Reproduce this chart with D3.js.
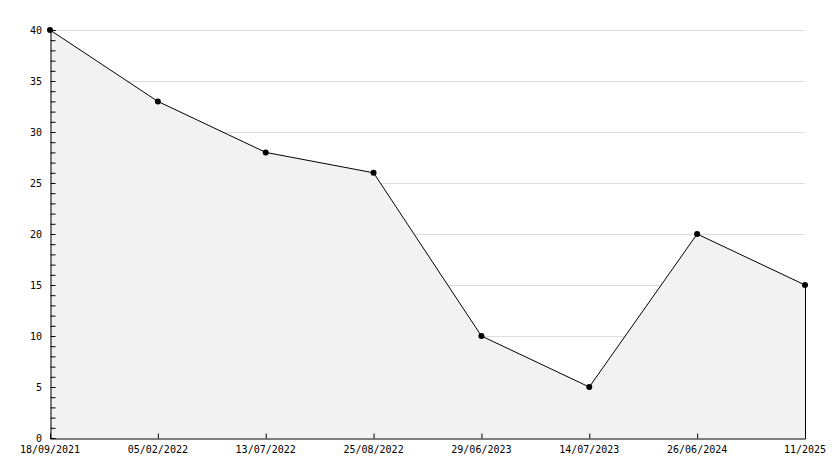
<html>
<head>
<script src="https://d3js.org/d3.v7.min.js"></script>
<style>
  body { margin: 0; background: #fff; }
  svg text { font-family: "DejaVu Sans Mono", monospace; font-size: 10px; fill: #000; }
</style>
</head>
<body>
<svg id="chart" width="834" height="468"></svg>
<script>
const dates = ["18/09/2021", "05/02/2022", "13/07/2022", "25/08/2022", "29/06/2023", "14/07/2023", "26/06/2024", "11/2025"];
const values = [40, 33, 28, 26, 10, 5, 20, 15];
const yMajorTicks = [0, 5, 10, 15, 20, 25, 30, 35, 40];

const plotLeft = 50, plotRight = 805, plotTop = 30, plotBottom = 438;
const svg = d3.select('#chart');

const x = d3.scalePoint().domain(dates).range([plotLeft, plotRight]);
const y = d3.scaleLinear().domain([0, 40]).range([plotBottom, plotTop]);

// grid
svg.append('g').selectAll('line')
  .data(yMajorTicks.filter(d => d > 0))
  .enter().append('line')
    .attr('x1', plotLeft).attr('x2', plotRight)
    .attr('y1', d => y(d) + 0.5).attr('y2', d => y(d) + 0.5)
    .attr('stroke', '#dddddd');

// area under line
const area = d3.area()
  .x((d, i) => x(dates[i]))
  .y0(y(0))
  .y1(d => y(d));
svg.append('path')
  .datum(values)
  .attr('d', area)
  .attr('fill', '#f2f2f2')
  .attr('stroke', 'none');

const line = d3.line()
  .x((d, i) => x(dates[i]))
  .y(d => y(d));
svg.append('path')
  .datum(values)
  .attr('d', line)
  .attr('fill', 'none')
  .attr('stroke', '#000')
  .attr('stroke-width', 1);

// right edge of the area
svg.append('line')
  .attr('x1', plotRight + 0.5).attr('x2', plotRight + 0.5)
  .attr('y1', y(values[values.length - 1])).attr('y2', plotBottom)
  .attr('stroke', '#000');

// y axis, ticks pointing inward
const yAxis = svg.append('g').attr('transform', 'translate(' + (plotLeft + 0.5) + ',0)')
  .call(d3.axisRight(y).tickValues(d3.range(0, 41, 1)).tickSize(5).tickFormat(''));
yAxis.select('.domain').attr('stroke', '#000');
yAxis.selectAll('.tick line').attr('stroke', '#000');
svg.append('g').selectAll('text')
  .data(yMajorTicks)
  .enter().append('text')
    .attr('x', plotLeft - 8)
    .attr('y', d => y(d))
    .attr('dy', '0.35em')
    .attr('text-anchor', 'end')
    .text(d => d);

// x axis, ticks pointing up
const xAxis = svg.append('g').attr('transform', 'translate(0,' + (plotBottom + 0.5) + ')')
  .call(d3.axisTop(x).tickSize(5).tickFormat(''));
xAxis.select('.domain').attr('stroke', '#000');
xAxis.selectAll('.tick line').attr('stroke', '#000');
svg.append('g').selectAll('text')
  .data(dates)
  .enter().append('text')
    .attr('x', d => x(d))
    .attr('y', plotBottom + 15)
    .attr('text-anchor', 'middle')
    .text(d => d);

// markers
svg.append('g').selectAll('circle')
  .data(values)
  .enter().append('circle')
    .attr('cx', (d, i) => x(dates[i]))
    .attr('cy', d => y(d))
    .attr('r', 3)
    .attr('fill', '#000');
</script>
</body>
</html>
